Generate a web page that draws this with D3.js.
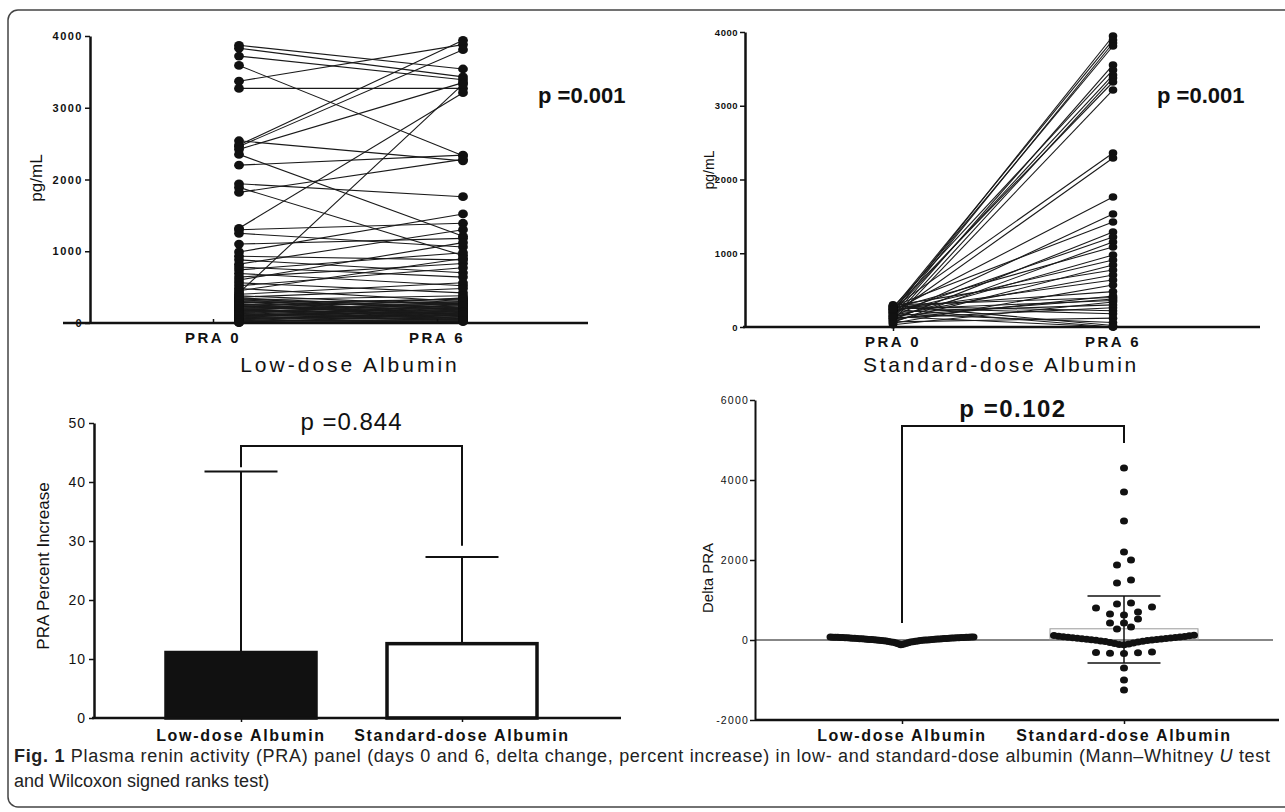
<!DOCTYPE html>
<html>
<head>
<meta charset="utf-8">
<script src="https://cdn.jsdelivr.net/npm/d3@7"></script>
<style>
  body { margin: 0; background: #fff; }
  svg { display: block; }
</style>
</head>
<body>
<script>
//////////////////////////////////////////////////////////////////////////////
// Data

var timeCats = ["PRA 0", "PRA 6"];
var groupCats = ["Low-dose Albumin", "Standard-dose Albumin"];

// low-dose: paired PRA day 0 / day 6 (pg/mL)
var lowPra0 = [3870, 3830, 3720, 3590, 3370, 3270, 2540, 2480, 2460, 2420, 2350, 2200, 1940, 1890, 1820,
    1320, 1300, 1250, 1100, 990, 930, 880, 820, 780, 740, 690, 640, 600, 560, 520, 480, 450, 420, 400,
    380, 360, 340, 320, 300, 290, 280, 260, 250, 240, 230, 220, 210, 200, 190, 180, 170, 160, 150, 140,
    130, 120, 110, 100, 95, 90, 80, 70, 60, 50, 40, 30, 20, 15,
    350, 330, 310, 270, 245, 225, 205, 185, 165, 145, 125, 105, 85, 65, 45, 25, 10, 5];
var lowPra6 = [3540, 3430, 3390, 2330, 3880, 3270, 2260, 3940, 3810, 3350, 1210, 2340, 1760, 940, 2280,
    3210, 1390, 1060, 1180, 1520, 880, 700, 1300, 640, 980, 520, 830, 1120, 420, 770, 300, 900, 3330, 560,
    250, 480, 180, 380, 220, 150, 330, 120, 270, 90, 200, 310, 160, 60, 240, 130, 350, 100, 190, 80,
    280, 140, 50, 210, 110, 170, 40, 260, 120, 70, 30, 150, 90, 20,
    210, 90, 280, 60, 340, 130, 260, 45, 220, 300, 70, 180, 240, 100, 160, 50, 120, 30];

// standard-dose: paired PRA day 0 / day 6 (pg/mL)
var stdPra0 = [210, 250, 180, 230, 150, 270, 200, 120, 240, 90, 260, 170, 220, 140, 280, 100, 190, 60,
    250, 130, 210, 80, 290, 160, 230, 50, 270, 110, 300, 150, 240, 30, 200, 120, 280, 260, 70, 180, 290, 240, 140];
var stdPra6 = [3946, 3892, 3851, 3810, 3553, 3485, 3417, 3376, 3322, 3214, 2359, 2292, 1763, 1532, 1424,
    1288, 1220, 1153, 1085, 976, 908, 841, 773, 705, 637, 570, 480, 420, 400, 380, 360, 340, 300, 260,
    220, 180, 120, 60, 20, 0, 0];

// percent increase: mean and upper SD end
var pctMean = [11.1, 12.6];
var pctUpper = [41.8, 27.3];
var pctBracket = [42.5, 46.1, 29.2];   // left leg end, top, right leg end
var pctP = "p =0.844";

// delta PRA scatter
var deltaLow = [-120, -104, -96, -85, -77, -66, -58, -52, -47, -41, -36, -31, -27, -22, -19, -15, -12, -9,
    -6, -3, 0, 3, 5, 8, 10, 13, 15, 17, 20, 22, 24, 27, 29, 31, 33, 36, 38, 40, 42, 44, 46, 48, 50, 52,
    54, 55, 57, 59, 60, 62, 63, 65, 66, 68, 69, 70, 71, 73, 74, 75];
var deltaStd = [4300, 3700, 2975, 2200, 2000, 1875, 1500, 1425, 925, 900, 825, 800, 700, 650, 625, 525,
    425, 425, 325, 275,
    120, 112, 104, 96, 90, 82, 75, 68, 60, 55, 48, 42, 36, 30, 24, 18, 12, 6, 0, -6, -14, -22, -30, -40,
    -52, -64, -76, -88, -100, -110, -120,
    -300, -310, -320, -330, -340, -700, -1000, -1250];
var deltaStdMean = 280;
var deltaStdSD = [-575, 1100];
var deltaBracket = [425, 5350, 4925];
var deltaP = "p =0.102";

var praP = ["p =0.001", "p =0.001"];

var pTicks = [0, 1000, 2000, 3000, 4000];
var pctTicks = [0, 10, 20, 30, 40, 50];
var deltaTicks = [-2000, 0, 2000, 4000, 6000];

//////////////////////////////////////////////////////////////////////////////

var FONT = "'Liberation Sans', Arial, Helvetica, sans-serif";
var INK = "#111";
var plain = function(d) { return String(d); };

var svg = d3.select("body")
    .append("svg")
    .attr("width", 1285)
    .attr("height", 812)
    .style("font-family", FONT);

svg.append("rect")
    .attr("x", 8).attr("y", 10)
    .attr("width", 1300).attr("height", 797)
    .attr("rx", 10)
    .attr("fill", "#fff")
    .attr("stroke", "#444")
    .attr("stroke-width", 1.5);

d3.selection.prototype.callReturn = function(callable)
{
    return callable(this);
};

function styleAxis(g, size, weight, spacing)
{
    g.select(".domain").attr("stroke", INK).attr("stroke-width", 2.5);
    g.selectAll(".tick line").attr("stroke", INK).attr("stroke-width", 1.5);
    g.selectAll(".tick text")
        .attr("fill", INK)
        .style("font-family", FONT)
        .style("font-size", size + "px")
        .style("font-weight", weight)
        .style("letter-spacing", spacing + "px");
    return g;
}

function addText(x, y, str, size, opts)
{
    opts = opts || {};
    var t = svg.append("text")
        .attr("x", x).attr("y", y)
        .attr("fill", INK)
        .attr("text-anchor", opts.anchor || "middle")
        .style("font-size", size + "px")
        .style("font-weight", opts.weight || "normal")
        .style("letter-spacing", (opts.spacing || 0) + "px")
        .text(str);
    if (opts.rotate) t.attr("transform", "rotate(-90," + x + "," + y + ")");
    return t;
}

function baseline(x1, x2, y, w)
{
    svg.append("line")
        .attr("x1", x1).attr("x2", x2).attr("y1", y).attr("y2", y)
        .attr("stroke", INK).attr("stroke-width", w);
}

// bee-swarm: bin values, spread each bin horizontally, lowest in the middle
function swarm(values, cx, binUnits, step, maxW)
{
    var out = [];
    d3.group(values, function(v) { return Math.round(v / binUnits); }).forEach(function(vs) {
        var sorted = vs.slice().sort(d3.ascending);
        var n = sorted.length;
        var s = n > 1 ? Math.min(step, maxW / (n - 1)) : 0;
        var slots = d3.range(n).map(function(i) { return (i - (n - 1) / 2) * s; })
            .sort(function(a, b) { return Math.abs(a) - Math.abs(b) || a - b; });
        sorted.forEach(function(v, i) { out.push({ v: v, x: cx + slots[i] }); });
    });
    return out;
}

//////////////////////////////////////////////////////////////////////////////
// Paired panels (top)

function pairedPanel(cfg)
{
    var y = d3.scaleLinear().domain([0, 4000]).range([cfg.y0, cfg.y1]);
    var x = d3.scalePoint().domain(timeCats).range(cfg.xr);
    var dx = cfg.dodge;

    var pairs = cfg.pra0.map(function(d, i) { return [d, cfg.pra6[i]]; });

    svg.append("g")
        .selectAll("line")
        .data(pairs)
        .enter()
        .append("line")
        .attr("x1", x("PRA 0") + dx)
        .attr("x2", x("PRA 6") + dx)
        .attr("y1", function(d) { return y(d[0]); })
        .attr("y2", function(d) { return y(d[1]); })
        .attr("stroke", "#1a1a1a")
        .attr("stroke-width", 1.1);

    baseline(cfg.axisL, cfg.axisR, cfg.y0, 2.5);

    svg.append("g")
        .attr("transform", "translate(" + cfg.yAxisX + ",0)")
        .call(d3.axisLeft(y).tickValues(pTicks).tickFormat(plain)
            .tickSize(5).tickSizeOuter(0).tickPadding(2))
        .callReturn(function(g) { return styleAxis(g, cfg.tickSize, "bold", cfg.tickSpacing); });

    var xg = svg.append("g")
        .attr("transform", "translate(0," + cfg.y0 + ")")
        .call(d3.axisBottom(x).tickSize(cfg.tickDir * 4).tickSizeOuter(0).tickFormat(""));
    xg.select(".domain").remove();
    xg.selectAll(".tick line").attr("stroke", INK).attr("stroke-width", 1.5);

    timeCats.forEach(function(c) {
        addText(x(c), cfg.y0 + 20, c, 15, { weight: "bold", spacing: 2.5 });
    });

    [cfg.pra0, cfg.pra6].forEach(function(vals, k) {
        svg.append("g")
            .selectAll("ellipse")
            .data(vals)
            .enter()
            .append("ellipse")
            .attr("cx", x(timeCats[k]) + dx)
            .attr("cy", function(d) { return y(d); })
            .attr("rx", cfg.r + 0.5)
            .attr("ry", cfg.r)
            .attr("fill", INK);
    });

    addText(cfg.titleX, 372, cfg.title, 21, { spacing: cfg.titleSpacing });
    addText(cfg.yLabelX, cfg.yLabelY, "pg/mL", cfg.yLabelSize, { rotate: true });
    addText(cfg.pX, 103, cfg.p, 22, { anchor: "start", weight: "bold" });
}

pairedPanel({
    pra0: lowPra0, pra6: lowPra6,
    y0: 323, y1: 36, xr: [213, 437], dodge: 26,
    axisL: 63, axisR: 588, yAxisX: 90, tickDir: -1, r: 4.4,
    tickSize: 11, tickSpacing: 1.5,
    title: groupCats[0], titleX: 350, titleSpacing: 3,
    yLabelX: 42, yLabelY: 178, yLabelSize: 17,
    p: praP[0], pX: 538
});

pairedPanel({
    pra0: stdPra0, pra6: stdPra6,
    y0: 327, y1: 32, xr: [893, 1113], dodge: 0,
    axisL: 743, axisR: 1260, yAxisX: 745, tickDir: 1, r: 3.8,
    tickSize: 9.5, tickSpacing: 0.5,
    title: groupCats[1], titleX: 1001, titleSpacing: 2.75,
    yLabelX: 714, yLabelY: 170, yLabelSize: 14,
    p: praP[1], pX: 1157
});

//////////////////////////////////////////////////////////////////////////////
// Percent increase bars (bottom left)

(function() {
    var y = d3.scaleLinear().domain([0, 50]).range([718, 423]);
    var x = d3.scalePoint().domain(groupCats).range([241, 462]);
    var barW = 150, capW = 73;

    svg.append("g")
        .selectAll("line")
        .data(groupCats)
        .enter()
        .append("line")
        .attr("x1", function(d) { return x(d); })
        .attr("x2", function(d) { return x(d); })
        .attr("y1", function(d, i) { return y(pctMean[i]); })
        .attr("y2", function(d, i) { return y(pctUpper[i]); })
        .attr("stroke", INK).attr("stroke-width", 2);

    svg.append("g")
        .selectAll("line")
        .data(groupCats)
        .enter()
        .append("line")
        .attr("x1", function(d) { return x(d) - capW / 2; })
        .attr("x2", function(d) { return x(d) + capW / 2; })
        .attr("y1", function(d, i) { return y(pctUpper[i]); })
        .attr("y2", function(d, i) { return y(pctUpper[i]); })
        .attr("stroke", INK).attr("stroke-width", 2);

    svg.append("g")
        .selectAll("rect")
        .data(groupCats)
        .enter()
        .append("rect")
        .attr("x", function(d) { return x(d) - barW / 2; })
        .attr("y", function(d, i) { return y(pctMean[i]); })
        .attr("width", barW)
        .attr("height", function(d, i) { return y(0) - y(pctMean[i]); })
        .attr("fill", function(d, i) { return i === 0 ? INK : "#fff"; })
        .attr("stroke", INK)
        .attr("stroke-width", 3.5);

    baseline(92, 621, y(0), 2.5);

    svg.append("g")
        .attr("transform", "translate(94,0)")
        .call(d3.axisLeft(y).tickValues(pctTicks).tickFormat(plain)
            .tickSize(5).tickSizeOuter(0).tickPadding(3))
        .callReturn(function(g) { return styleAxis(g, 14, "normal", 1); });

    var xg = svg.append("g")
        .attr("transform", "translate(0," + y(0) + ")")
        .call(d3.axisBottom(x).tickSize(4).tickSizeOuter(0).tickFormat(""));
    xg.select(".domain").remove();
    xg.selectAll(".tick line").attr("stroke", INK).attr("stroke-width", 1.5);

    groupCats.forEach(function(c) {
        addText(x(c), 741, c, 16, { weight: "bold", spacing: 1.7 });
    });

    svg.append("path")
        .attr("d", d3.line()([
            [x(groupCats[0]), y(pctBracket[0])],
            [x(groupCats[0]), y(pctBracket[1])],
            [x(groupCats[1]), y(pctBracket[1])],
            [x(groupCats[1]), y(pctBracket[2])]
        ]))
        .attr("fill", "none").attr("stroke", INK).attr("stroke-width", 2);

    addText((x(groupCats[0]) + x(groupCats[1])) / 2, 430, pctP, 24, { spacing: 1 });
    addText(49, 566, "PRA Percent Increase", 17, { rotate: true });
})();

//////////////////////////////////////////////////////////////////////////////
// Delta PRA scatter (bottom right)

(function() {
    var y = d3.scaleLinear().domain([-2000, 6000]).range([720, 400]);
    var x = d3.scalePoint().domain(groupCats).range([902, 1124]);
    var capW = 73, meanW = 148;

    baseline(755, 1273, y(0), 1.2);

    // mean bar of the standard group
    svg.append("rect")
        .attr("x", x(groupCats[1]) - meanW / 2)
        .attr("y", y(deltaStdMean))
        .attr("width", meanW)
        .attr("height", y(0) - y(deltaStdMean))
        .attr("fill", "none")
        .attr("stroke", "#9a9a9a")
        .attr("stroke-width", 1);

    svg.append("line")
        .attr("x1", x(groupCats[1])).attr("x2", x(groupCats[1]))
        .attr("y1", y(deltaStdSD[0])).attr("y2", y(deltaStdSD[1]))
        .attr("stroke", INK).attr("stroke-width", 1.5);

    svg.append("g")
        .selectAll("line")
        .data(deltaStdSD)
        .enter()
        .append("line")
        .attr("x1", x(groupCats[1]) - capW / 2)
        .attr("x2", x(groupCats[1]) + capW / 2)
        .attr("y1", function(d) { return y(d); })
        .attr("y2", function(d) { return y(d); })
        .attr("stroke", INK).attr("stroke-width", 1.5);

    var pts = swarm(deltaLow, x(groupCats[0]), 250, 14, 143)
        .concat(swarm(deltaStd, x(groupCats[1]), 250, 14, 140));

    svg.append("g")
        .selectAll("ellipse")
        .data(pts)
        .enter()
        .append("ellipse")
        .attr("cx", function(d) { return d.x; })
        .attr("cy", function(d) { return y(d.v); })
        .attr("rx", 4)
        .attr("ry", 3.5)
        .attr("fill", INK);

    baseline(755, 1279, y(-2000), 2.5);

    svg.append("g")
        .attr("transform", "translate(755,0)")
        .call(d3.axisLeft(y).tickValues(deltaTicks).tickFormat(plain)
            .tickSize(5).tickSizeOuter(0).tickPadding(1))
        .callReturn(function(g) { return styleAxis(g, 10.5, "normal", 1.2); })
        .select(".domain").attr("stroke-width", 2);

    var xg = svg.append("g")
        .attr("transform", "translate(0," + y(-2000) + ")")
        .call(d3.axisBottom(x).tickSize(4).tickSizeOuter(0).tickFormat(""));
    xg.select(".domain").remove();
    xg.selectAll(".tick line").attr("stroke", INK).attr("stroke-width", 1.5);

    groupCats.forEach(function(c) {
        addText(x(c), 741, c, 16, { weight: "bold", spacing: 1.7 });
    });

    svg.append("path")
        .attr("d", d3.line()([
            [x(groupCats[0]), y(deltaBracket[0])],
            [x(groupCats[0]), y(deltaBracket[1])],
            [x(groupCats[1]), y(deltaBracket[1])],
            [x(groupCats[1]), y(deltaBracket[2])]
        ]))
        .attr("fill", "none").attr("stroke", INK).attr("stroke-width", 2);

    addText((x(groupCats[0]) + x(groupCats[1])) / 2, 417, deltaP, 24, { weight: "bold", spacing: 1.5 });
    addText(713, 578, "Delta PRA", 15, { rotate: true });
})();

//////////////////////////////////////////////////////////////////////////////
// Caption

var cap1 = svg.append("text")
    .attr("x", 14).attr("y", 762)
    .attr("fill", "#222")
    .attr("textLength", 1256)
    .attr("lengthAdjust", "spacing")
    .style("font-size", "18px");
cap1.append("tspan").style("font-weight", "bold").text("Fig. 1");
cap1.append("tspan").text(" Plasma renin activity (PRA) panel (days 0 and 6, delta change, percent increase) in low- and standard-dose albumin (Mann\u2013Whitney ");
cap1.append("tspan").style("font-style", "italic").text("U");
cap1.append("tspan").text(" test");

svg.append("text")
    .attr("x", 14).attr("y", 787)
    .attr("fill", "#222")
    .style("font-size", "18px")
    .text("and Wilcoxon signed ranks test)");
</script>
</body>
</html>
